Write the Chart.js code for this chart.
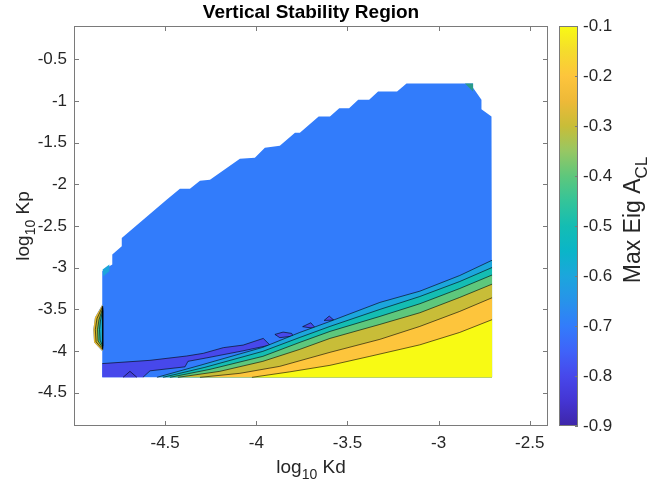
<!DOCTYPE html>
<html><head><meta charset="utf-8">
<script src="https://cdn.jsdelivr.net/npm/chart.js@4/dist/chart.umd.min.js"></script>
<style>html,body{margin:0;padding:0;background:#fff}</style>
</head><body>
<canvas id="c" width="650" height="482"></canvas>
<script>
// ---- axes / ticks ----
const xTicks = [-4.5, -4, -3.5, -3, -2.5];
const yTicks = [-4.5, -4, -3.5, -3, -2.5, -2, -1.5, -1, -0.5];
const cbTicks = [-0.9, -0.8, -0.7, -0.6, -0.5, -0.4, -0.3, -0.2, -0.1];
const xRange = [-5, -2.4];
const yRange = [-4.9, -0.1];
const cbRange = [-0.9, -0.1];

// ---- colour scale (Max Eig A_CL) ----
const cbStopVals = [-0.9,-0.85,-0.8,-0.75,-0.7,-0.65,-0.6,-0.55,-0.5,-0.45,-0.4,-0.35,-0.3,-0.25,-0.2,-0.15,-0.1];
const cbStopCols = ['#3e26a8','#4435d3','#4748eb','#3f63f9','#327cfb','#2793ea','#1ca6dc','#0ab5c8','#14bdb3','#34c499','#5ec77c','#97c763','#c8bd38','#eeb938','#fdc53c','#f5dc2c','#f8fa14'];

// ---- stable region outline (log10 Kd, log10 Kp) ----
const region = [[-4.845,-4.316],[-4.845,-4.004],[-4.890,-3.896],[-4.894,-3.741],[-4.885,-3.597],[-4.845,-3.441],
 [-4.845,-3.043],[-4.806,-2.983],[-4.790,-2.962],[-4.790,-2.843],[-4.738,-2.743],[-4.738,-2.643],[-4.492,-2.184],
 [-4.419,-2.052],[-4.364,-2.052],[-4.309,-1.956],[-4.254,-1.944],[-4.090,-1.693],[-4.008,-1.681],[-3.953,-1.561],
 [-3.871,-1.537],[-3.788,-1.381],[-3.761,-1.381],[-3.658,-1.186],[-3.596,-1.186],[-3.545,-1.086],[-3.491,-1.086],
 [-3.441,-0.986],[-3.381,-0.986],[-3.332,-0.887],[-3.228,-0.887],[-3.176,-0.791],[-2.811,-0.791],[-2.811,-0.840],
 [-2.765,-0.986],[-2.765,-1.098],[-2.710,-1.186],[-2.707,-4.316],[-4.845,-4.316]];

// left bump strips (outer -> inner)
const bumpOrange = [[-4.843,-4.004],[-4.890,-3.896],[-4.894,-3.741],[-4.885,-3.597],[-4.843,-3.441],[-4.843,-4.004]];
const bumpOlive  = [[-4.843,-3.980],[-4.879,-3.890],[-4.883,-3.741],[-4.874,-3.610],[-4.843,-3.465],[-4.843,-3.980]];
const bumpGreen  = [[-4.843,-3.960],[-4.868,-3.880],[-4.871,-3.741],[-4.863,-3.625],[-4.843,-3.489],[-4.843,-3.960]];
const bumpTeal   = [[-4.843,-3.940],[-4.857,-3.870],[-4.860,-3.741],[-4.855,-3.640],[-4.843,-3.513],[-4.843,-3.940]];
const cornerPatch = [[-4.843,-3.022],[-4.806,-2.962],[-4.806,-3.043],[-4.839,-3.102],[-4.843,-3.022]];
const topPatch = [[-2.856,-0.791],[-2.811,-0.791],[-2.811,-0.887],[-2.856,-0.791]];

// purple (-0.8) zone and islands
const purpleZone = [[-4.845,-4.151],[-4.583,-4.112],[-4.382,-4.060],[-4.291,-4.028],[-4.181,-3.960],[-4.072,-3.929],
 [-3.962,-3.849],[-3.925,-3.929],[-4.008,-3.968],[-4.073,-3.998],[-4.172,-4.040],[-4.271,-4.082],[-4.375,-4.124],
 [-4.391,-4.190],[-4.583,-4.238],[-4.622,-4.316],[-4.845,-4.316]];
const island1 = [[-3.898,-3.801],[-3.853,-3.773],[-3.806,-3.789],[-3.798,-3.821],[-3.871,-3.840],[-3.898,-3.801]];
const island2 = [[-3.746,-3.708],[-3.701,-3.661],[-3.673,-3.732],[-3.746,-3.708]];
const island3 = [[-3.628,-3.633],[-3.600,-3.581],[-3.575,-3.629],[-3.628,-3.633]];
const darkSpot = [[-4.731,-4.316],[-4.693,-4.244],[-4.655,-4.316]];

// contour lines, from the bottom edge to the right edge
const line1 = [[-4.545,-4.316],[-4.309,-4.172],[-3.964,-3.956],[-3.761,-3.777],[-3.596,-3.645],[-3.322,-3.417],[-3.103,-3.282],[-2.884,-3.094],[-2.707,-2.911]];
const line2 = [[-4.512,-4.316],[-4.282,-4.196],[-3.964,-4.004],[-3.761,-3.837],[-3.596,-3.705],[-3.322,-3.501],[-3.103,-3.346],[-2.884,-3.166],[-2.707,-2.998]];
const line3 = [[-4.474,-4.316],[-4.254,-4.220],[-3.964,-4.064],[-3.761,-3.896],[-3.596,-3.765],[-3.322,-3.585],[-3.103,-3.433],[-2.884,-3.250],[-2.707,-3.088]];
const line4 = [[-4.430,-4.316],[-4.200,-4.244],[-3.964,-4.124],[-3.761,-3.980],[-3.596,-3.849],[-3.322,-3.681],[-3.103,-3.541],[-2.884,-3.357],[-2.707,-3.198]];
const line5 = [[-4.309,-4.316],[-4.090,-4.268],[-3.871,-4.184],[-3.596,-4.016],[-3.322,-3.860],[-3.103,-3.705],[-2.884,-3.525],[-2.707,-3.361]];
const line6 = [[-4.024,-4.316],[-3.816,-4.250],[-3.596,-4.172],[-3.377,-4.064],[-3.103,-3.926],[-2.884,-3.777],[-2.707,-3.624]];
const bandLines = [line1, line2, line3, line4, line5, line6];
const bandColors = ['#1ca6dc','#14bdb3','#5ec77c','#c8bd38','#fdc53c','#f8fa14'];
const colPurple = '#4748eb', colMain = '#327cfb', colDark = '#3e26a8';
const bottomRight = [-2.707, -4.316];

const FONT = '"Liberation Sans", Arial, Helvetica, sans-serif';
const toPts = a => a.map(p => ({x: p[0], y: p[1]}));

const datasets = [];
function poly(arr, fillCol, border) {
  datasets.push({data: toPts(arr), showLine: true, fill: 'shape', backgroundColor: fillCol,
    borderColor: border ? 'rgba(0,0,0,0.85)' : 'rgba(0,0,0,0)', borderWidth: border ? 0.7 : 0, pointRadius: 0});
}
function stroke(arr) {
  datasets.push({data: toPts(arr), showLine: true, fill: false, borderColor: 'rgba(0,0,0,0.85)', borderWidth: 0.7, pointRadius: 0});
}
poly(region, colMain, false);
poly(bumpOrange, '#e6b92e', false);
poly(bumpOlive, '#b9b534', true);
poly(bumpGreen, '#3fbf8c', true);
poly(bumpTeal, '#18a9c4', true);
poly(cornerPatch, '#1ca6dc', false);
poly(topPatch, '#2a9a8a', false);
poly(purpleZone, colPurple, false);
stroke(purpleZone.slice(0, purpleZone.length - 1));
poly(island1, colPurple, true);
poly(island2, colPurple, true);
poly(island3, colPurple, true);
poly(darkSpot.concat([darkSpot[0]]), '#4340dc', false);
stroke(darkSpot);
bandLines.forEach((ln, i) => poly(ln.concat([bottomRight, ln[0]]), bandColors[i], false));
bandLines.forEach(ln => stroke(ln));
datasets.forEach((d, i) => { d.order = datasets.length - i; });

function subText(ctx, parts, cx, cy, rot, size, weight) {
  ctx.save();
  ctx.translate(cx, cy); ctx.rotate(rot);
  ctx.textBaseline = 'alphabetic'; ctx.textAlign = 'left';
  const sub = Math.round(size * 0.72);
  const f = p => (weight || '') + ' ' + (p[1] ? sub : size) + 'px ' + FONT;
  let w = 0;
  parts.forEach(p => { ctx.font = f(p); w += ctx.measureText(p[0]).width; });
  let xx = -w / 2;
  parts.forEach(p => { ctx.font = f(p); ctx.fillText(p[0], xx, p[1] ? size * 0.3 : 0); xx += ctx.measureText(p[0]).width; });
  ctx.restore();
}

const deco = {
  id: 'deco',
  afterDraw(chart) {
    const {ctx, chartArea: a, scales} = chart;
    const x = scales.x, y = scales.y, cb = scales.cb;
    ctx.save();
    ctx.strokeStyle = '#7a7a7a'; ctx.lineWidth = 1;
    const seg = (x1, y1, x2, y2) => { ctx.beginPath(); ctx.moveTo(x1, y1); ctx.lineTo(x2, y2); ctx.stroke(); };
    ctx.strokeRect(a.left + 0.5, a.top + 0.5, a.right - a.left - 1, a.bottom - a.top - 1);
    xTicks.forEach(v => { const p = Math.round(x.getPixelForValue(v)) + 0.5; seg(p, a.bottom, p, a.bottom - 5); seg(p, a.top, p, a.top + 5); });
    yTicks.forEach(v => { const p = Math.round(y.getPixelForValue(v)) + 0.5; seg(a.left, p, a.left + 5, p); seg(a.right, p, a.right - 5, p); });
    // colour bar
    const bx0 = a.right + 11, bx1 = a.right + 30;
    const top = cb.getPixelForValue(cbRange[1]), bot = cb.getPixelForValue(cbRange[0]);
    const g = ctx.createLinearGradient(0, bot, 0, top);
    cbStopVals.forEach((v, i) => g.addColorStop((v - cbRange[0]) / (cbRange[1] - cbRange[0]), cbStopCols[i]));
    ctx.fillStyle = g;
    ctx.fillRect(bx0, top, bx1 - bx0, bot - top);
    ctx.strokeRect(bx0 + 0.5, top + 0.5, bx1 - bx0 - 1, bot - top - 1);
    cbTicks.forEach(v => { const p = Math.round(cb.getPixelForValue(v)) + 0.5; seg(bx1, p, bx1 - 3, p); });
    // texts
    ctx.fillStyle = '#000';
    const cx = (a.left + a.right) / 2;
    subText(ctx, [['Vertical Stability Region', false]], cx, 18, 0, 19, 'bold');
    ctx.fillStyle = '#262626';
    subText(ctx, [['log', false], ['10', true], [' Kd', false]], cx, 473, 0, 19);
    subText(ctx, [['log', false], ['10', true], [' Kp', false]], 29, (a.top + a.bottom) / 2, -Math.PI / 2, 19);
    subText(ctx, [['Max Eig A', false], ['CL', true]], 640, 220, -Math.PI / 2, 23);
    ctx.restore();
  }
};

const tickFont = {family: FONT, size: 17};
const hiddenGrid = len => ({display: true, drawOnChartArea: false, drawTicks: true, tickLength: len, color: 'rgba(0,0,0,0)'});
new Chart(document.getElementById('c'), {
  type: 'scatter',
  data: {datasets},
  options: {
    responsive: false, animation: false, devicePixelRatio: 1,
    layout: {autoPadding: false, padding: {top: 26, left: 0, right: 0, bottom: 0}},
    plugins: {legend: {display: false}, tooltip: {enabled: false}, title: {display: false}},
    elements: {point: {radius: 0}, line: {tension: 0}},
    scales: {
      x: {type: 'linear', min: xRange[0], max: xRange[1],
        afterBuildTicks: s => { s.ticks = xTicks.map(v => ({value: v})); },
        afterFit: s => { s.height = 56; },
        grid: hiddenGrid(7), border: {display: false},
        ticks: {padding: 0, font: tickFont, color: '#262626', maxRotation: 0, autoSkip: false, callback: v => String(v)}},
      y: {type: 'linear', position: 'left', min: yRange[0], max: yRange[1],
        afterBuildTicks: s => { s.ticks = yTicks.map(v => ({value: v})); },
        afterFit: s => { s.width = 74; },
        grid: hiddenGrid(7), border: {display: false},
        ticks: {padding: 0, font: tickFont, color: '#262626', autoSkip: false, callback: v => String(v)}},
      cb: {type: 'linear', position: 'right', min: cbRange[0], max: cbRange[1],
        afterBuildTicks: s => { s.ticks = cbTicks.map(v => ({value: v})); },
        afterFit: s => { s.width = 102; },
        grid: hiddenGrid(35), border: {display: false},
        ticks: {padding: 0, font: tickFont, color: '#262626', autoSkip: false, callback: v => String(v)}}
    }
  },
  plugins: [deco]
});
</script>
</body></html>
